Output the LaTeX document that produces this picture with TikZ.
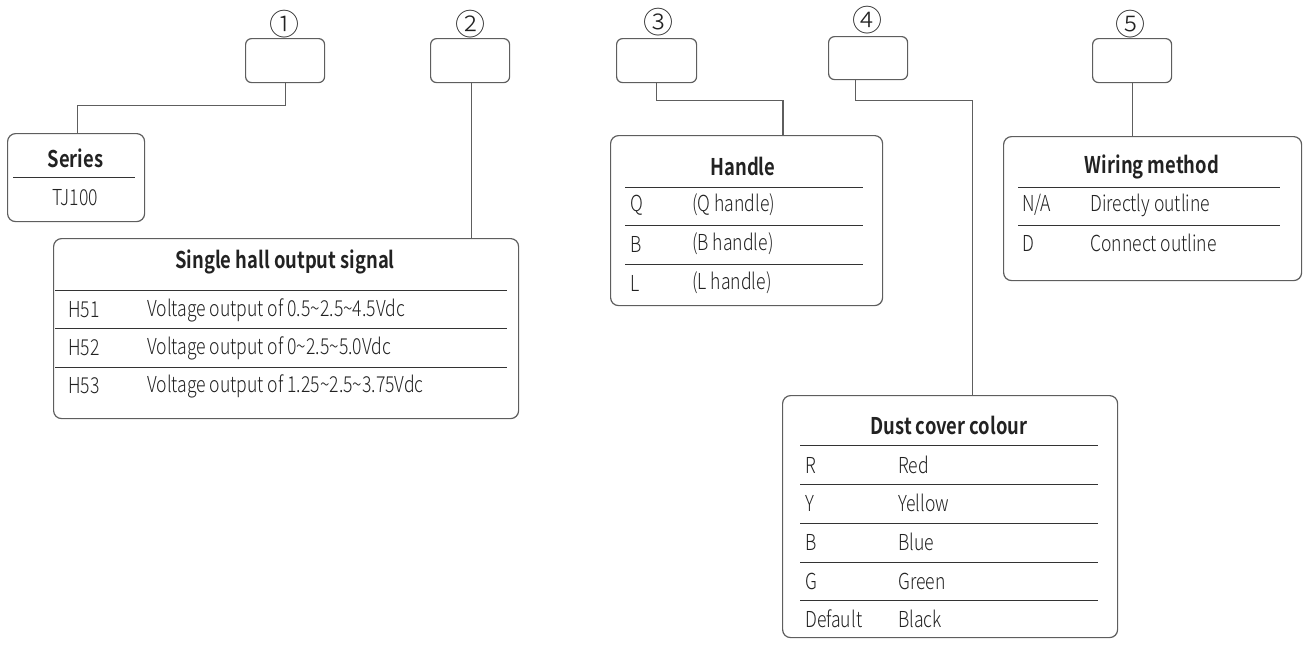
\documentclass[tikz,border=0pt]{standalone}
\usepackage{fontspec}
\setmainfont{Noto Sans CJK SC}[FakeStretch=0.8, UprightFont=* Light, BoldFont=* Bold]
\newfontfamily\circfont{Noto Sans CJK SC}[UprightFont=* Light]
\definecolor{bordergray}{HTML}{5E5E5E}
\definecolor{linegray}{HTML}{5E5E5E}
\definecolor{sepgray}{HTML}{333333}
\definecolor{textcol}{HTML}{222222}
\begin{document}
\begin{tikzpicture}[x=1pt,y=-1pt,
  box/.style={draw=bordergray, line width=1.2pt, rounded corners=8pt, anchor=north west, inner sep=0pt},
  sbox/.style={draw=bordergray, line width=1.2pt, rounded corners=6pt, anchor=north west, inner sep=0pt},
  conn/.style={draw=linegray, line width=1.2pt},
  sep/.style={draw=sepgray, line width=0.9pt},
  txt/.style={anchor=west, inner sep=0pt, font=\fontsize{22}{26}\selectfont, text=textcol},
  ctxt/.style={anchor=center, inner sep=0pt, font=\fontsize{22}{26}\selectfont, text=textcol},
  ttl/.style={anchor=center, inner sep=0pt, font=\fontsize{23}{27}\selectfont\bfseries, text=textcol},
  num/.style={anchor=center, inner sep=0pt, font=\circfont\fontsize{30}{32}\selectfont, text=textcol}]
\useasboundingbox (0,0) rectangle (1303,646);

% small code boxes
\node[sbox, minimum width=79pt, minimum height=44pt] (b1) at (245,38) {};
\node[sbox, minimum width=79pt, minimum height=44pt] (b2) at (430,38) {};
\node[sbox, minimum width=80pt, minimum height=44pt] (b3) at (616,38) {};
\node[sbox, minimum width=79pt, minimum height=43pt] (b4) at (828,36) {};
\node[sbox, minimum width=79pt, minimum height=44pt] (b5) at (1092,38) {};
\node[num] (n1) at (284,24) {①};
\node[num] (n2) at (470,24) {②};
\node[num] (n3) at (658,22) {③};
\node[num] (n4) at (867,20) {④};
\node[num] (n5) at (1130,24) {⑤};

% Series
\node[box, minimum width=137pt, minimum height=88pt] (series) at (7,133) {};
\node[ttl] (seriesT) at (75.5,158) {Series};
\draw[sep] (13,177) -- (135,177);
\node[ctxt] (tj) at (75.5,198) {TJ100};

% Single hall output signal
\node[box, minimum width=465pt, minimum height=180pt] (hall) at (53,238) {};
\node[ttl] (hallT) at (285,262) {Single hall output signal};
\draw[sep] (55,290) -- (507,290);
\draw[sep] (55,328) -- (507,328);
\draw[sep] (55,367) -- (507,367);
\node[txt] (h51) at (68,310) {H51};
\node[txt] (h51t) at (147,310) {Voltage output of 0.5\textasciitilde2.5\textasciitilde4.5Vdc};
\node[txt] (h52) at (68,348) {H52};
\node[txt] (h52t) at (147,348) {Voltage output of 0\textasciitilde2.5\textasciitilde5.0Vdc};
\node[txt] (h53) at (68,386) {H53};
\node[txt] (h53t) at (147,386) {Voltage output of 1.25\textasciitilde2.5\textasciitilde3.75Vdc};

% Handle
\node[box, minimum width=272pt, minimum height=170pt] (handle) at (610,135) {};
\node[ttl] (handleT) at (743,166) {Handle};
\draw[sep] (625,187) -- (863,187);
\draw[sep] (625,225) -- (863,225);
\draw[sep] (625,264) -- (863,264);
\node[txt] (q) at (630,205) {Q};
\node[txt] (qt) at (692,205) {(Q handle)};
\node[txt] (bb) at (630,244) {B};
\node[txt] (bt) at (692,244) {(B handle)};
\node[txt] (ll) at (630,283) {L};
\node[txt] (lt) at (692,283) {(L handle)};

% Wiring method
\node[box, minimum width=298pt, minimum height=144pt] (wiring) at (1003,136) {};
\node[ttl] (wiringT) at (1152,167) {Wiring method};
\draw[sep] (1018,187) -- (1280,187);
\draw[sep] (1018,225) -- (1280,225);
\node[txt] (na) at (1022,205) {N/A};
\node[txt] (nat) at (1090,205) {Directly outline};
\node[txt] (dd) at (1022,243) {D};
\node[txt] (ddt) at (1090,243) {Connect outline};

% Dust cover colour
\node[box, minimum width=335pt, minimum height=242pt] (dust) at (782,395) {};
\node[ttl] (dustT) at (949,425) {Dust cover colour};
\foreach \yy in {445,484,523,562,600} \draw[sep] (800,\yy) -- (1098,\yy);
\node[txt] (r) at (805,465) {R};
\node[txt] (rt) at (898,465) {Red};
\node[txt] (y) at (805,503) {Y};
\node[txt] (yt) at (898,503) {Yellow};
\node[txt] (bl) at (805,542) {B};
\node[txt] (blt) at (898,542) {Blue};
\node[txt] (g) at (805,581) {G};
\node[txt] (gt) at (898,581) {Green};
\node[txt] (df) at (805,619) {Default};
\node[txt] (dft) at (898,619) {Black};

% connectors
\draw[conn] (b1.south) -- ++(0,22) -| ([xshift=1.5pt]series.north);
\draw[conn] ([xshift=1.5pt]b2.south) -- ([xshift=1.5pt]b2.south |- hall.north);
\draw[conn] (b3.south) -- ++(0,17) -| ([xshift=173pt]handle.north west);
\draw[conn] ([xshift=-12.5pt]b4.south) -- ++(0,20) -| ([xshift=22.5pt]dust.north);
\draw[conn] (b5.south) -- (b5.south |- wiring.north);
\end{tikzpicture}
\end{document}
